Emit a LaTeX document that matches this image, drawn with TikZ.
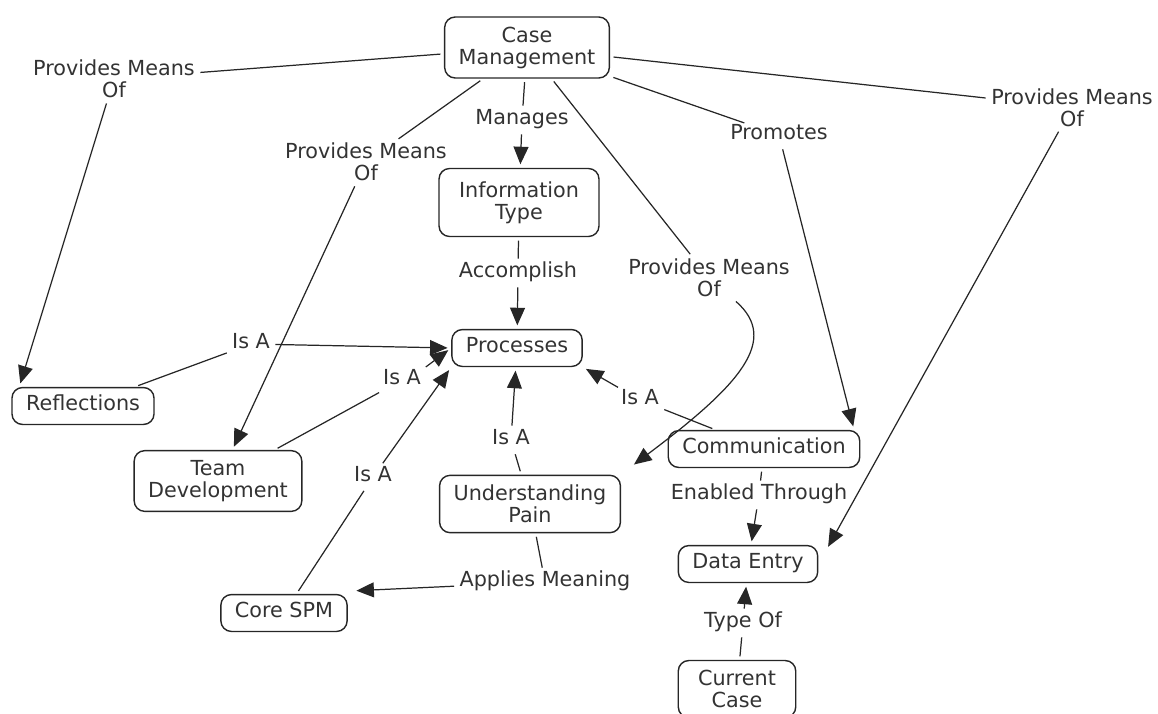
\documentclass[tikz,border=0pt]{standalone}
\usepackage{fontspec}
\setmainfont{DejaVu Sans}
\usepackage{tikz}
\usetikzlibrary{arrows.meta}
\usetikzlibrary{shapes}
\newcommand{\cmapfont}{\fontsize{11.8}{12.5}\selectfont}
\tikzstyle{concept}=[draw=black!85,line width=0.8pt,rounded corners=6pt,align=center,inner xsep=8pt,inner ysep=5.5pt,text=black!80,font=\cmapfont]
\tikzstyle{phrase}=[align=center,inner sep=1pt,text=black!80,font=\cmapfont]
\tikzstyle{oneline}=[text height=0.76em,text depth=0.24em]
\tikzstyle{link}=[draw=black!85,line width=0.7pt,shorten <=2pt,shorten >=2pt]
\tikzstyle{linkarrow}=[link,-{Triangle[length=10pt,width=8.5pt]}]

\begin{document}
\begin{tikzpicture}[x=0.02cm,y=-0.02cm]
	\useasboundingbox (0,0) rectangle (1158,713);
	% concepts
	\node[concept] (cm) at (527,47.5) {Case\\Management};
	\node[concept,minimum width=3.2cm,minimum height=1.36cm] (info) at (519,202.5) {Information\\Type};
	\node[concept,oneline] (proc) at (517,348) {Processes};
	\node[concept,oneline] (refl) at (83,406) {Reflections};
	\node[concept] (td) at (218,481) {Team\\Development};
	\node[concept] (up) at (530,504) {Understanding\\Pain};
	\node[concept,oneline] (core) at (284,613) {Core SPM};
	\node[concept,oneline] (comm) at (764,449) {Communication};
	\node[concept,oneline] (de) at (748,564) {Data Entry};
	\node[concept,minimum width=2.35cm] (cc) at (737,689) {Current\\Case};
	% linking phrases
	\node[phrase] (pmoA) at (114,79) {Provides Means\\Of};
	\node[phrase] (pmoB) at (366,162) {Provides Means\\Of};
	\node[phrase,oneline] (mng) at (522,120) {Manages};
	\node[phrase] (pmoC) at (709,278) {Provides Means\\Of};
	\node[phrase,oneline] (prom) at (779,135) {Promotes};
	\node[phrase] (pmoD) at (1072,107.5) {Provides Means\\Of};
	\node[phrase,oneline] (acc) at (518,273) {Accomplish};
	\node[phrase,oneline] (isA1) at (251,344) {Is A};
	\node[phrase,oneline] (isA2) at (402,380) {Is A};
	\node[phrase,oneline] (isA3) at (373,477) {Is A};
	\node[phrase,oneline] (isA4) at (511,440) {Is A};
	\node[phrase,oneline] (isA5) at (640,400) {Is A};
	\node[phrase,oneline] (enab) at (759,495) {Enabled Through};
	\node[phrase,oneline] (appl) at (545,582) {Applies Meaning};
	\node[phrase,oneline] (typ) at (743,623) {Type Of};
	% links from case management
	\draw[link] (cm) -- (pmoA);
	\draw[linkarrow] (pmoA) -- ([shift={(8,0)}]refl.north west);
	\draw[link] (cm) -- (pmoB);
	\draw[linkarrow] (pmoB) -- (td);
	\draw[link] (cm) -- (mng);
	\draw[linkarrow] (mng) -- (info);
	\draw[link] (cm) -- (pmoC);
	\draw[linkarrow] (pmoC.-41) .. controls (780,340) and (740,385) .. ([shift={(10,-8)}]up.north east);
	\draw[link] (cm) -- (prom);
	\draw[linkarrow] (prom) -- (comm.12);
	\draw[link] (cm) -- (pmoD);
	\draw[linkarrow] (pmoD) -- ([shift={(8,5)}]de.north east);
	% is a
	\draw[link] (info) -- (acc);
	\draw[linkarrow] (acc) -- (proc);
	\draw[link] (refl) -- (isA1);
	\draw[linkarrow] (isA1) -- (proc.west);
	\draw[link] (td) -- (isA2);
	\draw[linkarrow] (isA2.north east) -- (proc.west);
	\draw[link] (core) -- (isA3);
	\draw[linkarrow] (isA3) -- (proc.south west);
	\draw[link] (up) -- (isA4);
	\draw[linkarrow] (isA4) -- (proc);
	\draw[link] (comm) -- (isA5);
	\draw[linkarrow] (isA5) -- (proc.south east);
	% lower part
	\draw[link] (up) -- (appl);
	\draw[linkarrow] (appl) -- ([shift={(5,-3)}]core.north east);
	\draw[link] (comm) -- (enab);
	\draw[linkarrow] (enab) -- (de);
	\draw[link] (cc) -- (typ);
	\draw[linkarrow] (typ) -- (de);
\end{tikzpicture}
\end{document}
